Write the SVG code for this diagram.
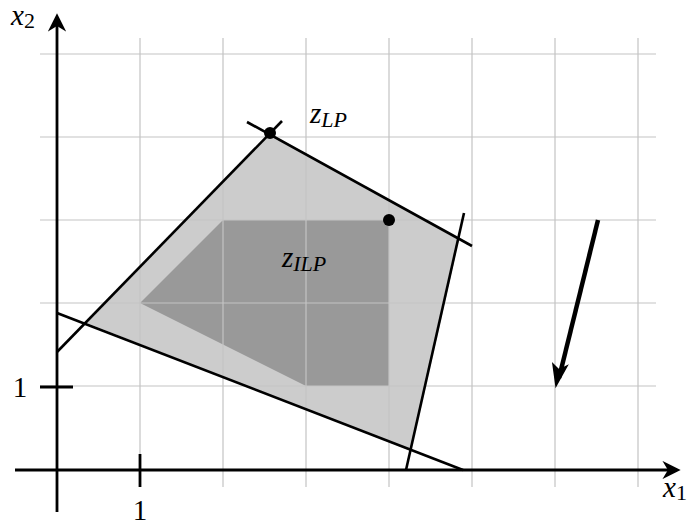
<svg xmlns="http://www.w3.org/2000/svg" width="694" height="527" viewBox="0 0 694 527">
<defs>
<style>
.grid{stroke:#c4c4c4;stroke-width:1.2;fill:none}
.ln{stroke:#000;stroke-width:2.6;fill:none;stroke-linecap:butt}
.ax{stroke:#000;stroke-width:2.8;fill:none}
.t{font-family:"Liberation Serif","Times New Roman",serif;font-size:29px;fill:#000}
.i{font-style:italic}
.s{font-size:22px}
</style>
<marker id="ah2" viewBox="0 0 10 10" refX="8" refY="5" markerWidth="6.5" markerHeight="6.5" orient="auto">
<path d="M0,0 L10,5 L0,10 L3,5 Z" fill="#000"/>
</marker>
</defs>
<g id="regions">
<polygon id="lp" points="87,323 270,133 459,240 411,451" fill="#cccccc"/>
<polygon id="ilp" points="140,303 223,220 389,220 389,386 306,386" fill="#999999"/>
</g>
<g id="grid" class="grid">
<path d="M140,38V487M223,38V487M306,38V487M389,38V487M472,38V487M555,38V487M638,38V487"/>
<path d="M40,54H656M40,137H656M40,220H656M40,303H656M40,386H656"/>
</g>
<g id="axes">
<line class="ax" x1="15" y1="470" x2="677" y2="470" marker-end="url(#ah2)"/>
<line class="ax" x1="57" y1="512" x2="57" y2="17" marker-end="url(#ah2)"/>
<line class="ax" x1="140" y1="454" x2="140" y2="487"/>
<line class="ax" x1="40" y1="387" x2="73" y2="387"/>
<text class="t" x="663" y="497"><tspan class="i">x</tspan><tspan class="s" dy="3">1</tspan></text>
<text class="t" x="11" y="25"><tspan class="i">x</tspan><tspan class="s" dy="3">2</tspan></text>
<text class="t" x="140" y="520" text-anchor="middle">1</text>
<text class="t" x="20" y="397" text-anchor="middle">1</text>
</g>
<g id="connectors">
<line class="ln" x1="57" y1="352" x2="282" y2="121"/>
<line class="ln" x1="57" y1="313" x2="463" y2="470"/>
<line class="ln" x1="247" y1="122" x2="472" y2="246"/>
<line class="ln" x1="406" y1="470" x2="464" y2="213"/>
<line x1="598" y1="220" x2="559" y2="378" stroke="#000" stroke-width="4.5"/>
<path d="M556,386 L553,364 L559,370 L567,366 Z" fill="#000" stroke="#000" stroke-width="1.5"/>
</g>
<g id="zlp">
<circle cx="270" cy="133" r="6" fill="#000"/>
<text class="t" x="310" y="123"><tspan class="i">z</tspan><tspan class="s i" dy="4">LP</tspan></text>
</g>
<g id="zilp">
<circle cx="389" cy="220" r="6" fill="#000"/>
<text class="t" x="282" y="267"><tspan class="i">z</tspan><tspan class="s i" dy="4">ILP</tspan></text>
</g>
</svg>
